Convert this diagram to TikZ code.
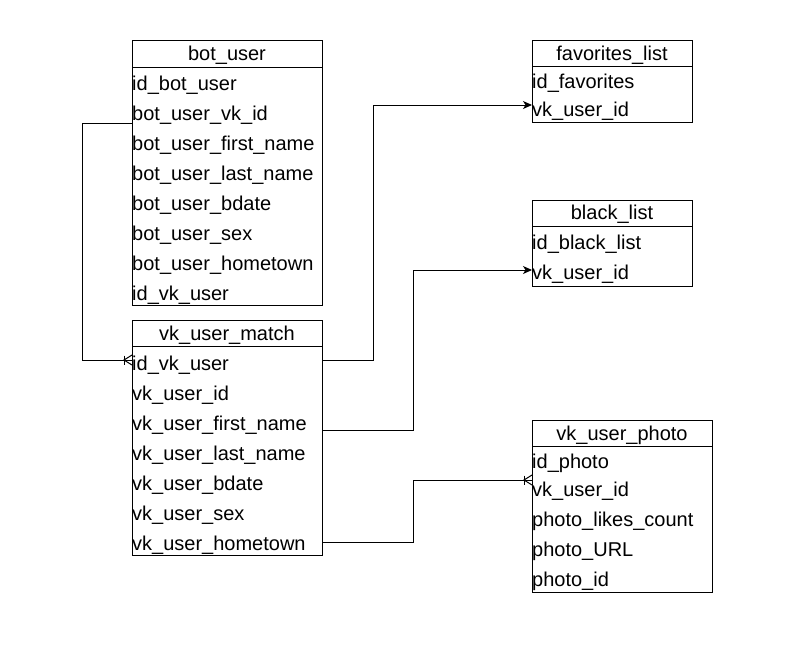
\documentclass[tikz,border=0pt]{standalone}
\usepackage{fontspec}
\setmainfont{Liberation Sans}
\usetikzlibrary{arrows.meta,calc}
\begin{document}
\begin{tikzpicture}[x=1pt,y=-1pt,
  tbl/.style={draw, line width=1pt, anchor=north west, inner sep=0pt},
  ttl/.style={inner sep=0pt, yshift=-1.5pt, font=\fontsize{20}{24}\selectfont, text height=14.5pt, text depth=4.2pt},
  fld/.style={inner sep=0pt, yshift=-2pt, anchor=west, font=\fontsize{20}{24}\selectfont, text height=14.5pt, text depth=4.2pt},
  conn/.style={line width=1pt},
  arr/.style={conn, -{Stealth[length=9pt,width=8pt,inset=2.5pt]}}]
\useasboundingbox (0,0) rectangle (806,659);
% bot_user
\node[tbl, minimum width=190pt, minimum height=265pt] (bu) at (132,40) {};
\draw[line width=1pt] (132,67) -- (322,67);
\node[ttl] (bu-t) at (227,54) {bot\_user};
\node[fld] (bu1) at (132,83) {id\_bot\_user};
\node[fld] (bu2) at (132,113) {bot\_user\_vk\_id};
\node[fld] (bu3) at (132,143) {bot\_user\_first\_name};
\node[fld] (bu4) at (132,173) {bot\_user\_last\_name};
\node[fld] (bu5) at (132,203) {bot\_user\_bdate};
\node[fld] (bu6) at (132,233) {bot\_user\_sex};
\node[fld] (bu7) at (132,263) {bot\_user\_hometown};
\node[fld] (bu8) at (132,293) {id\_vk\_user};
% vk_user_match
\node[tbl, minimum width=190pt, minimum height=235pt] (vm) at (132,320) {};
\draw[line width=1pt] (132,346) -- (322,346);
\node[ttl] (vm-t) at (227,334) {vk\_user\_match};
\node[fld] (vm1) at (132,363) {id\_vk\_user};
\node[fld] (vm2) at (132,393) {vk\_user\_id};
\node[fld] (vm3) at (132,423) {vk\_user\_first\_name};
\node[fld] (vm4) at (132,453) {vk\_user\_last\_name};
\node[fld] (vm5) at (132,483) {vk\_user\_bdate};
\node[fld] (vm6) at (132,513) {vk\_user\_sex};
\node[fld] (vm7) at (132,543) {vk\_user\_hometown};
% favorites_list
\node[tbl, minimum width=160pt, minimum height=82pt] (fl) at (532,40) {};
\draw[line width=1pt] (532,66) -- (692,66);
\node[ttl] (fl-t) at (612,54) {favorites\_list};
\node[fld] (fl1) at (532,81) {id\_favorites};
\node[fld] (fl2) at (532,109) {vk\_user\_id};
% black_list
\node[tbl, minimum width=160pt, minimum height=86pt] (bl) at (532,200) {};
\draw[line width=1pt] (532,226) -- (692,226);
\node[ttl] (bl-t) at (612,213) {black\_list};
\node[fld] (bl1) at (532,242) {id\_black\_list};
\node[fld] (bl2) at (532,272) {vk\_user\_id};
% vk_user_photo
\node[tbl, minimum width=180pt, minimum height=172pt] (vp) at (532,420) {};
\draw[line width=1pt] (532,446) -- (712,446);
\node[ttl] (vp-t) at (622,434) {vk\_user\_photo};
\node[fld] (vp1) at (532,461) {id\_photo};
\node[fld] (vp2) at (532,489) {vk\_user\_id};
\node[fld] (vp3) at (532,519) {photo\_likes\_count};
\node[fld] (vp4) at (532,549) {photo\_URL};
\node[fld] (vp5) at (532,579) {photo\_id};
% connection points
\coordinate (c1s) at (bu.west |- 0,123);
\coordinate (c1e) at (vm.west |- 0,360);
\coordinate (c2s) at (vm.east |- 0,360);
\coordinate (c2e) at (fl.west |- 0,105);
\coordinate (c3s) at (vm.east |- 0,430);
\coordinate (c3e) at (bl.west |- 0,270);
\coordinate (c4s) at (vm.east |- 0,542);
\coordinate (c4e) at (vp.west |- 0,480);
% connectors
\draw[conn] (c1s) -- ++(-50,0) |- (c1e);
\draw[conn] ($(c1e)+(-8,-4.5)$) -- ++(0,9);
\draw[conn] ($(c1e)+(0,-5)$) -- ($(c1e)+(-8,0)$) -- ($(c1e)+(0,5)$);
\draw[arr] (c2s) -- ++(50,0) |- (c2e);
\draw[arr] (c3s) -- ++(90,0) |- (c3e);
\draw[conn] (c4s) -- ++(90,0) |- (c4e);
\draw[conn] ($(c4e)+(-8,-4.5)$) -- ++(0,9);
\draw[conn] ($(c4e)+(0,-5)$) -- ($(c4e)+(-8,0)$) -- ($(c4e)+(0,5)$);
\end{tikzpicture}
\end{document}
